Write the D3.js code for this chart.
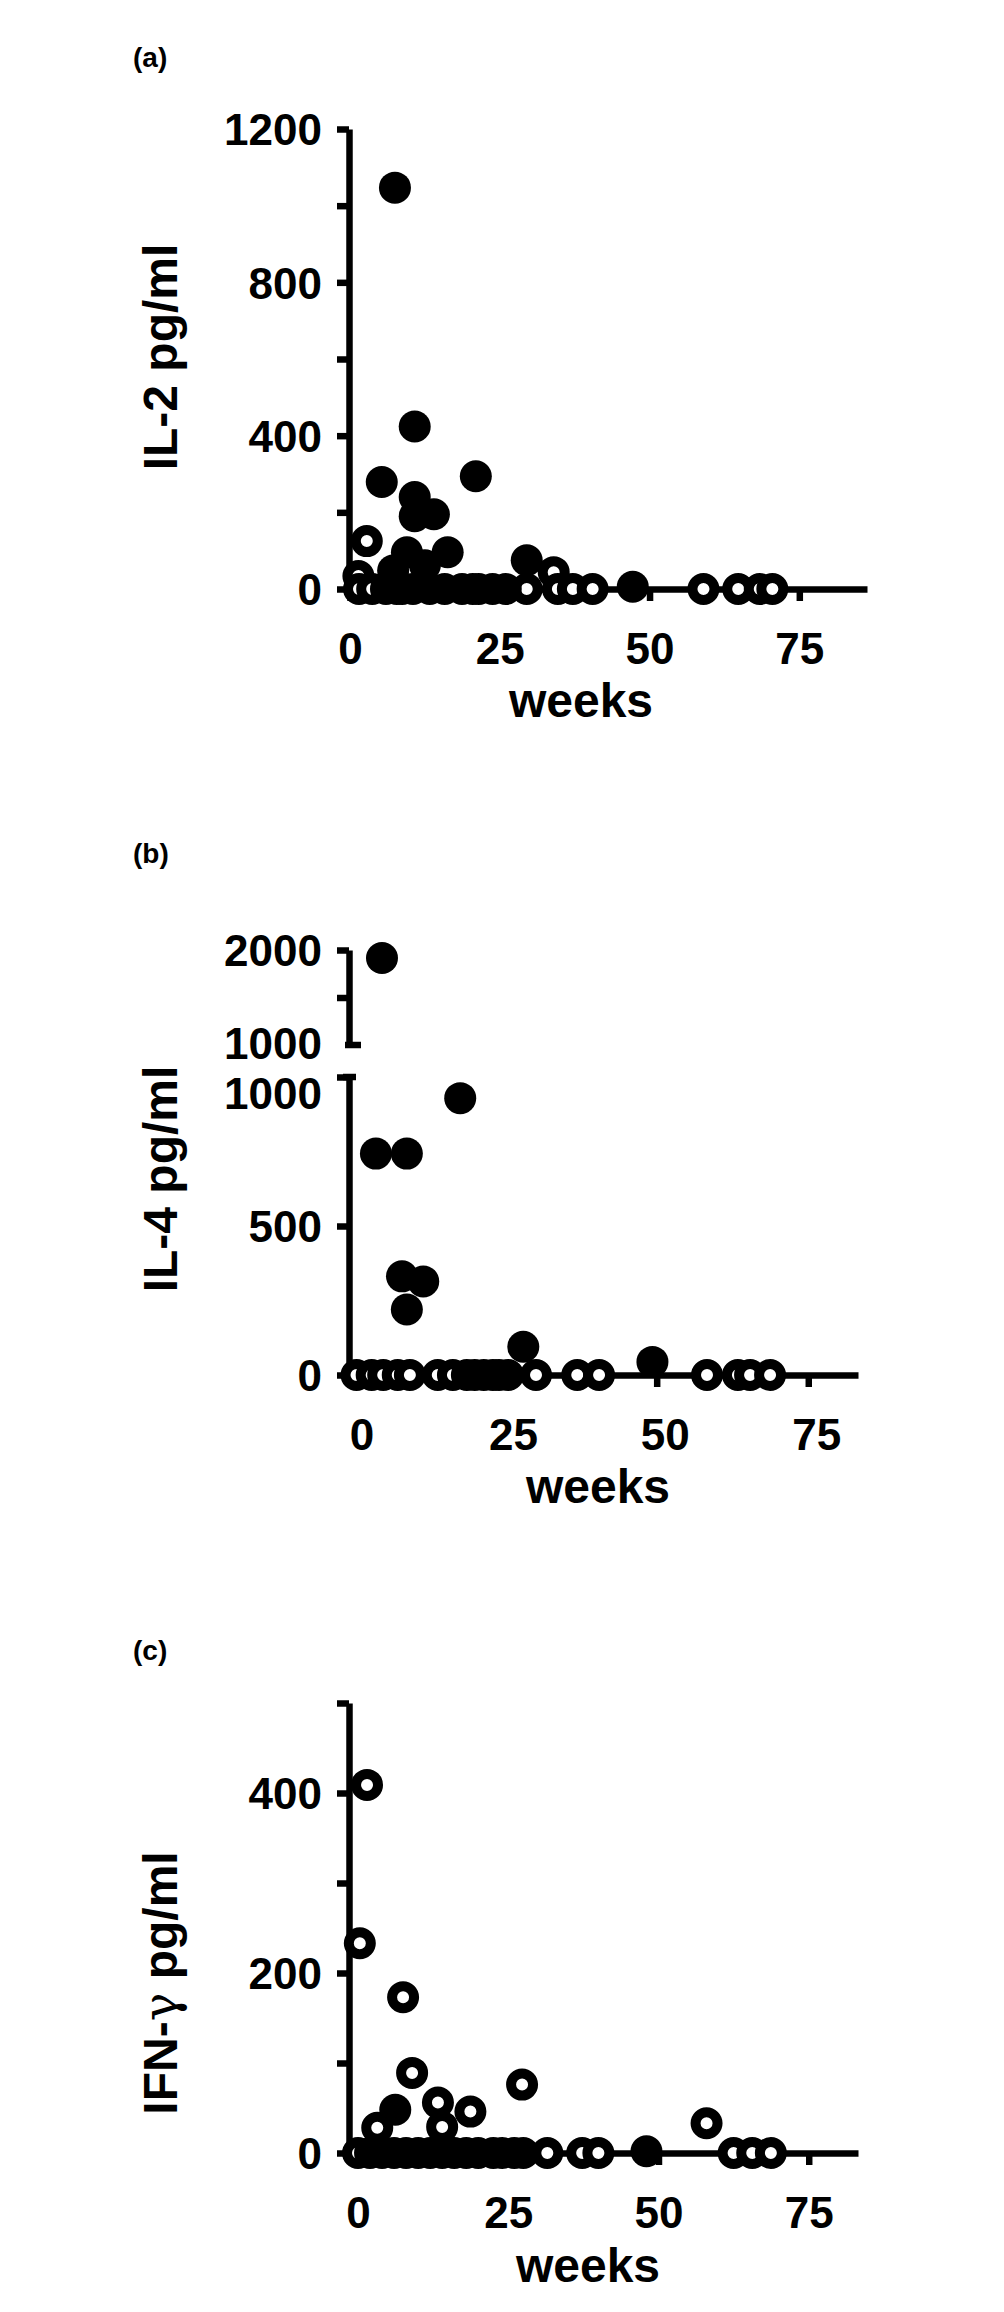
<!DOCTYPE html>
<html>
<head>
<meta charset="utf-8">
<script src="https://cdn.jsdelivr.net/npm/d3@7"></script>
<style>
body { margin: 0; background: #fff; }
text { font-family: "Liberation Sans", Arial, sans-serif; font-weight: bold; fill: #000; }
</style>
</head>
<body>
<svg id="fig" width="1004" height="2312"></svg>
<script>

// shared x axis
weekTicks = [0, 25, 50, 75];

// (a) IL-2
il2Ticks = [0, 200, 400, 600, 800, 1000, 1200];
il2Labels = [0, 400, 800, 1200];
il2Open = [[1.4, 34], [2.8, 125], [34, 44],
    [1.5, 0], [3.7, 0], [8.7, 0], [20.5, 0], [29.5, 0], [34.7, 0], [37.2, 0], [40.5, 0],
    [59, 0], [64.8, 0], [68.4, 0], [70.5, 0]];
il2Filled = [[7.5, 1047], [10.8, 424], [5.3, 279], [21, 294], [10.8, 240], [14, 195], [10.8, 190],
    [9.5, 96], [16.3, 96], [12.5, 62], [7.2, 48], [29.5, 75], [47.2, 6],
    [6, 0], [7.8, 0], [10.5, 0], [13.3, 0], [15.8, 0], [18.7, 0], [21.5, 0], [23.8, 0], [26, 0]];

// (b) IL-4, broken axis
il4LowTicks = [0, 500, 1000];
il4HighTicks = [1000, 1500, 2000];
il4HighLabels = [1000, 2000];
il4Open = [[0.5, 0], [3, 0], [4.9, 0], [7.3, 0], [9.3, 0], [13.9, 0], [16.4, 0], [18.7, 0],
    [25.5, 0], [30.1, 0], [36.9, 0], [40.5, 0], [58.3, 0], [63.4, 0], [65.4, 0], [68.7, 0]];
il4Filled = [[4.7, 1916], [17.6, 929], [3.7, 743], [8.8, 743], [8, 331], [11.5, 314], [8.8, 220],
    [28, 95], [49.3, 44], [20, 0], [21.5, 0], [23, 0], [24, 0]];

// (c) IFN-gamma
ifnTicks = [0, 100, 200, 300, 400, 500];
ifnLabels = [0, 200, 400];
ifnOpen = [[0.3, 233], [1.5, 409], [7.5, 173], [9, 89], [13.3, 56], [18.7, 46], [27.3, 76],
    [3.2, 28], [14, 29], [58, 33],
    [0, 0], [20, 0], [31.5, 0], [37.3, 0], [40, 0], [62.5, 0], [65.6, 0], [68.7, 0]];
ifnFilled = [[6.2, 48], [48, 2],
    [2, 0], [4, 0], [6, 0], [8, 0], [10, 0], [12, 0], [14, 0], [16, 0], [18, 0],
    [22.5, 0], [24, 0], [26, 0], [27.5, 0]];

var svg = d3.select("#fig");
var lw = 6.5;
var axisX = 349;

function styleAxis(g) {
    g.attr("font-family", null).attr("font-size", null);
    g.select(".domain").attr("stroke", "#000").attr("stroke-width", lw);
    g.selectAll(".tick line").attr("stroke", "#000").attr("stroke-width", lw);
    g.selectAll(".tick text").attr("font-size", 44);
}

function yAxis(g, y, ticks, labels) {
    return g.append("g")
        .attr("transform", "translate(" + axisX + ",0)")
        .call(d3.axisLeft(y).tickValues(ticks).tickSize(12).tickSizeOuter(0)
            .tickFormat(function(d) { return labels.indexOf(d) >= 0 ? d : ""; }))
        .call(styleAxis)
        .call(function(a) {
            a.selectAll(".tick text").attr("x", -27).attr("dy", "0.36em");
        });
}

function drawPanel(p) {
    var g = svg.append("g");
    var x = d3.scaleLinear().domain(p.xDomain).range([axisX, p.xEnd]);
    var yVal = p.yPos;

    // x axis
    g.append("g")
        .attr("transform", "translate(0," + p.base + ")")
        .call(d3.axisBottom(x).tickValues(weekTicks).tickSize(12).tickSizeOuter(0))
        .call(styleAxis)
        .call(function(a) {
            a.selectAll(".tick text").attr("y", 75).attr("dy", 0).attr("dx", p.labelDx || 0);
        });

    p.drawY(g);

    // open symbols first, filled on top
    g.selectAll("circle.open")
        .data(p.open)
        .enter().append("circle")
            .attr("class", "open")
            .attr("cx", function(d) { return x(d[0]); })
            .attr("cy", function(d) { return yVal(d[1]); })
            .attr("r", 11)
            .attr("fill", "#fff")
            .attr("stroke", "#000")
            .attr("stroke-width", 10);
    g.selectAll("circle.filled")
        .data(p.filled)
        .enter().append("circle")
            .attr("class", "filled")
            .attr("cx", function(d) { return x(d[0]); })
            .attr("cy", function(d) { return yVal(d[1]); })
            .attr("r", 16)
            .attr("fill", "#000");

    g.append("text")
        .attr("x", p.weeksX).attr("y", p.weeksY)
        .attr("text-anchor", "middle").attr("font-size", 48)
        .text("weeks");

    var t = g.append("text")
        .attr("transform", "translate(177," + p.titleY + ") rotate(-90)")
        .attr("text-anchor", "middle").attr("font-size", 48);
    p.title(t);

    g.append("text")
        .attr("x", 133).attr("y", p.letterY)
        .attr("font-size", 28)
        .text(p.letter);
}

// (a)
var yA = d3.scaleLinear().domain([0, 1200]).range([589, 129]);
drawPanel({
    letter: "(a)", letterY: 67,
    xDomain: [-0.17, 86.3], xEnd: 867, base: 589,
    yPos: yA,
    drawY: function(g) { yAxis(g, yA, il2Ticks, il2Labels); },
    open: il2Open, filled: il2Filled,
    weeksX: 581, weeksY: 717, titleY: 357,
    title: function(t) { t.text("IL-2 pg/ml"); }
});

// (b)
var yLow = d3.scaleLinear().domain([0, 1000]).range([1375, 1077]);
var yHigh = d3.scaleLinear().domain([1000, 2000]).range([1045, 950]);
drawPanel({
    letter: "(b)", letterY: 863,
    xDomain: [-0.74, 83.2], xEnd: 858, base: 1375, labelDx: 8,
    yPos: function(v) { return v > 1000 ? yHigh(v) : yLow(v); },
    drawY: function(g) {
        var low = yAxis(g, yLow, il4LowTicks, il4LowTicks);
        var high = yAxis(g, yHigh, il4HighTicks, il4HighLabels);
        // the two "1000" labels sit just apart around the break
        low.selectAll(".tick").filter(function(d) { return d === 1000; })
            .select("text").attr("dy", "0.72em");
        high.selectAll(".tick").filter(function(d) { return d === 1000; })
            .call(function(t) { t.select("line").remove(); })
            .select("text").attr("dy", "0.3em");
        // break caps
        g.append("line").attr("x1", axisX - 4).attr("x2", axisX + 12)
            .attr("y1", yHigh(1000)).attr("y2", yHigh(1000))
            .attr("stroke", "#000").attr("stroke-width", lw);
        g.append("line").attr("x1", axisX - 6).attr("x2", axisX + 7)
            .attr("y1", yLow(1000)).attr("y2", yLow(1000))
            .attr("stroke", "#000").attr("stroke-width", lw);
    },
    open: il4Open, filled: il4Filled,
    weeksX: 598, weeksY: 1503, titleY: 1179,
    title: function(t) { t.text("IL-4 pg/ml"); }
});

// (c)
var yC = d3.scaleLinear().domain([0, 500]).range([2153, 1703]);
drawPanel({
    letter: "(c)", letterY: 1660,
    xDomain: [-1.5, 83.2], xEnd: 858, base: 2153,
    yPos: yC,
    drawY: function(g) { yAxis(g, yC, ifnTicks, ifnLabels); },
    open: ifnOpen, filled: ifnFilled,
    weeksX: 588, weeksY: 2282, titleY: 1983,
    title: function(t) {
        t.append("tspan").text("IFN-");
        t.append("tspan").attr("font-family", "DejaVu Serif").attr("font-weight", "normal").text("γ");
        t.append("tspan").text(" pg/ml");
    }
});

</script>
</body>
</html>
